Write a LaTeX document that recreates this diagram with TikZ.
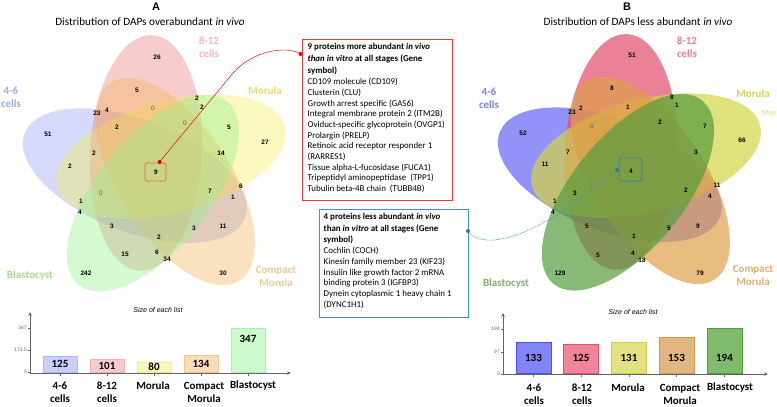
\documentclass[tikz,border=0pt]{standalone}
\usepackage{fontspec}
\setmainfont{Carlito}
\newfontfamily\arialf{Liberation Sans}
\usetikzlibrary{arrows.meta,calc}
% Venn fills
\definecolor{aBlue}{RGB}{150,160,242}
\definecolor{aRed}{RGB}{232,128,128}
\definecolor{aYel}{RGB}{244,238,95}
\definecolor{aOra}{RGB}{244,182,95}
\definecolor{aGrn}{RGB}{150,240,140}
\definecolor{bBlue}{RGB}{100,100,245}
\definecolor{bRed}{RGB}{226,76,105}
\definecolor{bYel}{RGB}{212,212,70}
\definecolor{bOra}{RGB}{223,159,74}
\definecolor{bGrn}{RGB}{85,155,60}
% set label colours
\definecolor{laBlue}{RGB}{160,168,240}
\definecolor{laRed}{RGB}{244,184,184}
\definecolor{laYel}{RGB}{240,216,112}
\definecolor{laOra}{RGB}{240,200,144}
\definecolor{laGrn}{RGB}{168,216,144}
\definecolor{lbBlue}{RGB}{128,128,240}
\definecolor{lbRed}{RGB}{232,128,152}
\definecolor{lbYel}{RGB}{208,208,96}
\definecolor{lbOra}{RGB}{224,176,112}
\definecolor{lbGrn}{RGB}{128,176,112}
% bars
\definecolor{aF1}{RGB}{202,206,250}\definecolor{aD1}{RGB}{178,184,245}
\definecolor{aF2}{RGB}{250,202,202}\definecolor{aD2}{RGB}{240,178,178}
\definecolor{aF3}{RGB}{250,248,188}\definecolor{aD3}{RGB}{240,234,150}
\definecolor{aF4}{RGB}{250,222,184}\definecolor{aD4}{RGB}{240,200,150}
\definecolor{aF5}{RGB}{204,250,204}\definecolor{aD5}{RGB}{172,240,172}
\definecolor{bF1}{RGB}{132,132,250}\definecolor{bD1}{RGB}{80,80,230}
\definecolor{bF2}{RGB}{240,132,152}\definecolor{bD2}{RGB}{225,80,110}
\definecolor{bF3}{RGB}{226,226,132}\definecolor{bD3}{RGB}{205,205,80}
\definecolor{bF4}{RGB}{226,182,128}\definecolor{bD4}{RGB}{210,150,80}
\definecolor{bF5}{RGB}{128,186,108}\definecolor{bD5}{RGB}{85,155,65}
\definecolor{boxRed}{RGB}{235,60,60}
\definecolor{boxBlue}{RGB}{70,140,210}
\definecolor{smallRed}{RGB}{232,112,74}
\definecolor{smallBlue}{RGB}{44,127,184}
\definecolor{axgray}{RGB}{100,100,100}

\newcommand\fivesets[8]{%
  \begin{scope}[shift={(#1,#2)}]
    \foreach \r/\col in {72/#3,0/#4,-72/#5,-144/#6,-216/#7}{
      \begin{scope}[rotate=\r]
        \begin{scope}[shift={(117.8:21.5pt)},rotate=87]
          \fill[fill=\col, fill opacity=#8] (0,0) ellipse [x radius=118pt, y radius=56pt];
        \end{scope}
      \end{scope}
    }
  \end{scope}
}

\tikzset{
  vnum/.style={font=\arialf\bfseries\fontsize{6.5}{7}\selectfont, inner sep=0},
  vzero/.style={font=\arialf\fontsize{6.5}{7}\selectfont, text=black!65, inner sep=0},
  setlab/.style={font=\bfseries\fontsize{11}{13}\selectfont, align=center, inner sep=0},
  ttl/.style={font=\arialf\bfseries\fontsize{11}{12}\selectfont, inner sep=0},
  subttl/.style={font=\fontsize{11.2}{13}\selectfont, inner sep=0},
  frameA/.style={draw=boxRed, line width=0.8pt, inner sep=0, anchor=north west},
  frameB/.style={draw=boxBlue, line width=0.8pt, inner sep=0, anchor=north west},
  boxtext/.style={font=\fontsize{8.9}{10.7}\selectfont, align=left, inner sep=0, anchor=north west},
  axisline/.style={draw=axgray, line width=0.6pt},
  axarrow/.style={axisline, -{Stealth[length=4pt,width=3.5pt]}},
  ticklab/.style={font=\arialf\fontsize{5}{6}\selectfont, text=axgray, anchor=east, inner sep=0},
  sizettl/.style={font=\arialf\itshape\fontsize{7}{8}\selectfont, inner sep=0},
  barnum/.style={font=\bfseries\fontsize{11}{12}\selectfont, inner sep=0},
  catlab/.style={font=\bfseries\fontsize{11}{13}\selectfont, align=center, inner sep=0},
  dotstyle/.style={circle, inner sep=0, minimum size=4pt},
}

\begin{document}
\begin{tikzpicture}[x=1pt,y=-1pt]
\useasboundingbox (0,0) rectangle (777,407);

% ---------------- Venn A ----------------
\fivesets{156}{172}{aBlue}{aRed}{aYel}{aOra}{aGrn}{0.4}
\node[ttl] (titA) at (156,7) {A};
\node[subttl] (subA) at (150,22) {Distribution of DAPs overabundant \textit{in vivo}};
\node[setlab, text=laBlue] (sA1) at (11,97) {4-6\\cells};
\node[setlab, text=laRed] (sA2) at (209,47) {8-12\\cells};
\node[setlab, text=laYel] (sA3) at (265,91) {Morula};
\node[setlab, text=laOra] (sA4) at (276,276) {Compact\\Morula};
\node[setlab, text=laGrn] (sA5) at (30,276) {Blastocyst};

\foreach \x/\y/\t [count=\k] in {157/57/26, 137/90/5, 97/113/23, 107/110/4, 197/98/2, 202/107/2,
  48/134/51, 117/127/2, 229/127/5, 265/142/27, 94/153/2, 221/153/14, 70/166/2, 156/172/9,
  210/191/7, 241/186/6, 233/197/1, 81/201/1, 80/212/4, 112/226/3, 194/228/3, 223/226/11,
  159/237/2, 125/254/15, 157/252/6, 167/259/34, 86/273/242, 223/273/30}
  \node[vnum] (na\k) at (\x,\y) {\t};
\foreach \x/\y [count=\k] in {153/108, 185/123, 101/193}
  \node[vzero] (nza\k) at (\x,\y) {0};

\node[draw=smallRed, line width=0.8pt, rounded corners=2.5pt, minimum width=21pt, minimum height=18pt, inner sep=0] (cboxA) at (155.5,172) {};

% ---------------- Venn B ----------------
\fivesets{631}{171}{bBlue}{bRed}{bYel}{bOra}{bGrn}{0.7}
\node[ttl] (titB) at (627,7) {B};
\node[subttl] (subB) at (638,22) {Distribution of DAPs less abundant \textit{in vivo}};
\node[setlab, text=lbBlue] (sB1) at (489,98) {4-6\\cells};
\node[setlab, text=lbRed] (sB2) at (687,47) {8-12\\cells};
\node[setlab, text=lbYel] (sB3) at (753,94) {Morula};
\node[font=\bfseries\fontsize{8}{9}\selectfont, text=lbYel!60!white, anchor=west, inner sep=0] (sB3b) at (762,113) {Mor};
\node[setlab, text=lbOra] (sB4) at (753,275) {Compact\\Morula};
\node[setlab, text=lbGrn] (sB5) at (506,284) {Blastocyst};

\foreach \x/\y/\t [count=\k] in {632/55/51, 612/88/8, 572/112/23, 581/108/2, 628/107/1, 672/97/8, 677/105/1,
  523/133/52, 660/122/2, 705/126/7, 742/140/66, 568/152/7, 696/152/3, 545/164/11, 631/171/4,
  575/193/3, 686/190/2, 717/185/11, 710/196/4, 555/201/1, 553/212/4, 587/226/5, 669/228/5,
  698/226/9, 634/236/1, 598/255/5, 633/253/4, 642/260/18, 560/273/129, 700/273/79}
  \node[vnum] (nb\k) at (\x,\y) {\t};
\node[vzero] (nzb1) at (592,126) {0};

\node[draw=smallBlue, line width=0.8pt, rounded corners=2.5pt, minimum width=23pt, minimum height=23pt, inner sep=0] (cboxB) at (630.5,169.5) {};

% ---------------- Callout boxes ----------------
\node[frameA, minimum width=150pt, minimum height=161pt] (boxA) at (302,39) {};
\node[boxtext] (txtA) at (307.5,43.5) {%
\textbf{9 proteins more abundant \textit{in vivo}}\\[1.3pt]
\textbf{\textit{than in vitro} at all stages (Gene}\\[1.3pt]
\textbf{symbol)}\\
CD109 molecule (CD109)\\
Clusterin (CLU)\\
Growth arrest specific (GAS6)\\
Integral membrane protein 2 (ITM2B)\\
Oviduct-specific glycoprotein (OVGP1)\\
Prolargin (PRELP)\\
Retinoic acid receptor responder 1\\
(RARRES1)\\
Tissue alpha-L-fucosidase (FUCA1)\\
Tripeptidyl aminopeptidase\ \ (TPP1)\\
Tubulin beta-4B chain\ \ (TUBB4B)};

\node[frameB, minimum width=149pt, minimum height=108pt] (boxB) at (319,209) {};
\node[boxtext] (txtB) at (323.5,213.5) {%
\textbf{4 proteins less abundant \textit{in vivo}}\\[0.8pt]
\textbf{than \textit{in vitro} at all stages (Gene}\\[0.8pt]
\textbf{symbol)}\\
Cochlin (COCH)\\
Kinesin family member 23 (KIF23)\\
Insulin like growth factor 2 mRNA\\
binding protein 3 (IGFBP3)\\
Dynein cytoplasmic 1 heavy chain 1\\
(DYNC1H1)};

% ---------------- Connectors ----------------
\node[dotstyle, fill=red!90!black] (dA1) at (159.5,162) {};
\node[dotstyle, fill=red!90!black] (dA2) at (300.5,54) {};
\draw[red!85!black, line width=0.45pt] (dA1.center) -- (233,73) .. controls (252,51) and (287,45) .. (dA2.center);

\node[dotstyle, fill=boxBlue!80!black] (dB1) at (617,170) {};
\node[dotstyle, fill=boxBlue!80!black] (dB2) at (468,231) {};
\draw[boxBlue, line width=0.5pt, dash pattern=on 1.4pt off 0.9pt] (dB1.center) -- (574,203) .. controls (547,224) and (488,256) .. (dB2.center);

% ---------------- Bar chart A ----------------
\node[sizettl] (sizeA) at (158,310) {Size of each list};
\coordinate (aO) at (30,373);
\coordinate (aYt) at (30,312);
\coordinate (aXt) at (291,373);
\foreach \cx/\h/\v/\ny [count=\k] in {60/15.85/125/364, 107/12.8/101/366, 154/10.1/80/367, 201/17/134/364, 248/44/347/339}{
  \node[draw=aD\k, fill=aF\k, line width=0.8pt, minimum width=34pt, minimum height=\h*1pt, anchor=south, inner sep=0] (abar\k) at (\cx,372.5) {};
  \node[barnum] (aval\k) at (\cx,\ny) {\v};
  \draw[axisline] (\cx,373) -- (\cx,376);
}
\draw[axarrow] (aO) -- (aYt);
\draw[axarrow] (aO) -- (aXt);
\foreach \y/\t [count=\k] in {328/347, 350/173.5, 372/0}{
  \draw[axisline] (28,\y) -- (30,\y);
  \node[ticklab] (atl\k) at (27,\y) {\t};
}
\node[catlab] (acat1) at (60,392.5) {4-6\\cells};
\node[catlab] (acat2) at (107,392.5) {8-12\\cells};
\node[catlab] (acat3) at (153,386) {Morula};
\node[catlab] (acat4) at (204,392.5) {Compact\\Morula};
\node[catlab] (acat5) at (253,386) {Blastocyst};

% ---------------- Bar chart B ----------------
\node[sizettl] (sizeB) at (633,312) {Size of each list};
\coordinate (bO) at (503,374);
\coordinate (bYt) at (503,313);
\coordinate (bXt) at (768,374);
\foreach \cx/\h/\v [count=\k] in {533.5/30.9/133, 581/29/125, 629/30.4/131, 676.5/35.5/153, 724.5/45/194}{
  \node[draw=bD\k, fill=bF\k, line width=0.8pt, minimum width=35pt, minimum height=\h*1pt, anchor=south, inner sep=0] (bbar\k) at (\cx,373.5) {};
  \node[barnum] (bval\k) at (\cx,358) {\v};
  \draw[axisline] (\cx,374) -- (\cx,377);
}
\draw[axarrow] (bO) -- (bYt);
\draw[axarrow] (bO) -- (bXt);
\foreach \y/\t [count=\k] in {329/194, 352/97, 374/0}{
  \draw[axisline] (501,\y) -- (503,\y);
  \node[ticklab] (btl\k) at (500,\y) {\t};
}
\node[catlab] (bcat1) at (534,394.5) {4-6\\cells};
\node[catlab] (bcat2) at (582,394.5) {8-12\\cells};
\node[catlab] (bcat3) at (628,388) {Morula};
\node[catlab] (bcat4) at (680,394.5) {Compact\\Morula};
\node[catlab] (bcat5) at (730,388) {Blastocyst};
\end{tikzpicture}
\end{document}
